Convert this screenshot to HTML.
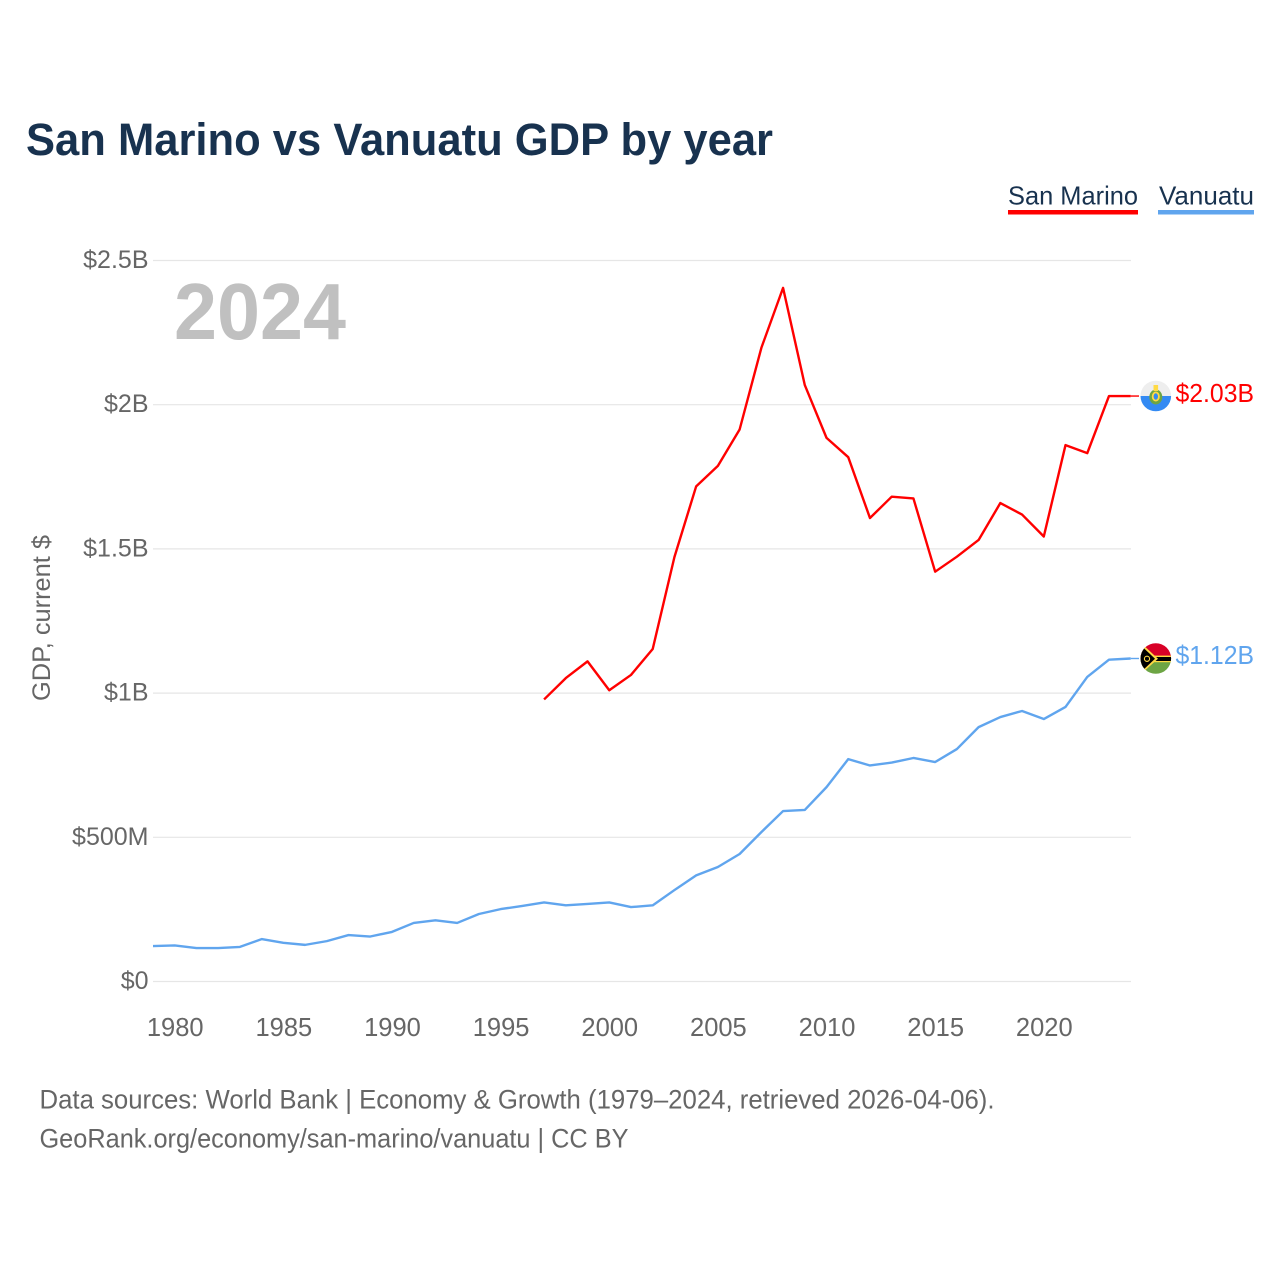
<!DOCTYPE html>
<html lang="en">
<head>
<meta charset="utf-8">
<title>San Marino vs Vanuatu GDP by year</title>
<style>
html,body{margin:0;padding:0;background:#fff;width:1280px;height:1280px;overflow:hidden}
svg{display:block;font-family:"Liberation Sans",sans-serif}
</style>
</head>
<body>
<svg id="chart" width="1280" height="1280" viewBox="0 0 1280 1280" xmlns="http://www.w3.org/2000/svg">
  <defs>
    <clipPath id="flag-clip-sm"><circle cx="1155.8" cy="396" r="15.3"/></clipPath>
    <clipPath id="flag-clip-vu"><circle cx="1155.8" cy="658.5" r="15.3"/></clipPath>
  </defs>
  <rect width="1280" height="1280" fill="#fff"/>
  <text x="26" y="155" font-size="45" font-weight="700" fill="#18324f" textLength="747" lengthAdjust="spacingAndGlyphs">San Marino vs Vanuatu GDP by year</text>

  <g>
    <g>
      <text x="1008" y="204.5" font-size="26" fill="#18324f" textLength="130" lengthAdjust="spacingAndGlyphs">San Marino</text>
      <rect x="1008" y="210" width="130" height="4.5" fill="#ff0000"/>
    </g>
    <g>
      <text x="1159" y="204.5" font-size="26" fill="#18324f" textLength="95" lengthAdjust="spacingAndGlyphs">Vanuatu</text>
      <rect x="1158" y="210" width="96" height="4.5" fill="#60a5ee"/>
    </g>
  </g>

  <g id="grid"></g>
  <g id="y-ticks"></g>
  <g id="x-ticks"></g>
  <text transform="translate(50,701) rotate(-90)" font-size="25" fill="#666" textLength="166" lengthAdjust="spacingAndGlyphs">GDP, current $</text>
  <text id="year-label" x="174" y="339" font-size="80" font-weight="700" fill="#c0c0c0" textLength="172" lengthAdjust="spacingAndGlyphs"></text>

  <g id="series"></g>

  <g clip-path="url(#flag-clip-sm)">
    <rect x="1140" y="380" width="32" height="16" fill="#eeeeee"/>
    <rect x="1140" y="396" width="32" height="17" fill="#338af3"/>
    <ellipse cx="1155.8" cy="397" rx="6.5" ry="7.5" fill="#6da544"/>
    <ellipse cx="1155.8" cy="396.5" rx="4" ry="5" fill="#ffda44"/>
    <ellipse cx="1155.8" cy="396.5" rx="2.2" ry="3.2" fill="#338af3"/>
    <rect x="1153.5" y="385" width="4.6" height="6" fill="#ffda44"/>
  </g>
  <g clip-path="url(#flag-clip-vu)">
    <rect x="1140" y="642" width="32" height="16.5" fill="#d80027"/>
    <rect x="1140" y="658.5" width="32" height="17" fill="#6da544"/>
    <rect x="1150" y="657" width="22" height="4" fill="#000"/>
    <rect x="1150" y="655.6" width="22" height="1.4" fill="#ffda44"/>
    <rect x="1150" y="661" width="22" height="1.2" fill="#ffda44"/>
    <polygon points="1140,642 1140,675 1158,658.8" fill="#ffda44"/>
    <polygon points="1140,644.5 1140,673 1155,658.8" fill="#000"/>
    <circle cx="1147" cy="658.8" r="2.6" fill="none" stroke="#ffda44" stroke-width="1.1"/>
  </g>

  <g id="end-labels"></g>

  <text x="39.5" y="1108.5" font-size="26.5" fill="#666" textLength="955" lengthAdjust="spacingAndGlyphs">Data sources: World Bank | Economy &amp; Growth (1979–2024, retrieved 2026-04-06).</text>
  <text x="39.5" y="1147.5" font-size="26.5" fill="#666" textLength="589" lengthAdjust="spacingAndGlyphs">GeoRank.org/economy/san-marino/vanuatu | CC BY</text>
</svg>

<script>
const vanuatuYears = [1979,1980,1981,1982,1983,1984,1985,1986,1987,1988,1989,1990,1991,1992,1993,1994,1995,1996,1997,1998,1999,2000,2001,2002,2003,2004,2005,2006,2007,2008,2009,2010,2011,2012,2013,2014,2015,2016,2017,2018,2019,2020,2021,2022,2023,2024];
const vanuatuValues = [0.123,0.125,0.116,0.116,0.120,0.147,0.134,0.127,0.140,0.161,0.156,0.172,0.203,0.212,0.203,0.234,0.251,0.262,0.274,0.264,0.269,0.274,0.258,0.264,0.317,0.368,0.397,0.442,0.518,0.591,0.595,0.674,0.771,0.749,0.759,0.775,0.761,0.806,0.882,0.917,0.938,0.910,0.952,1.056,1.116,1.120];
const sanMarinoYears = [1997,1998,1999,2000,2001,2002,2003,2004,2005,2006,2007,2008,2009,2010,2011,2012,2013,2014,2015,2016,2017,2018,2019,2020,2021,2022,2023,2024];
const sanMarinoValues = [0.978,1.052,1.110,1.010,1.063,1.153,1.472,1.717,1.788,1.914,2.197,2.405,2.068,1.885,1.818,1.607,1.681,1.675,1.421,1.473,1.531,1.659,1.619,1.543,1.860,1.832,2.030,2.030];
const yTickValues = [0,0.5,1,1.5,2,2.5];
const yTickLabels = ["$0","$500M","$1B","$1.5B","$2B","$2.5B"];
const xTickValues = [1980,1985,1990,1995,2000,2005,2010,2015,2020];
const currentYear = 2024;

const NS = 'http://www.w3.org/2000/svg';
function xScale(year){ return 153 + (year - 1979) * (1130.7 - 153) / 45; }
function yScale(v){ return 981.5 - v * (981.5 - 260.5) / 2.5; }
function make(tag, attrs, parent, text){
  const el = document.createElementNS(NS, tag);
  for (const k in attrs) el.setAttribute(k, attrs[k]);
  if (text !== undefined) el.textContent = text;
  parent.appendChild(el);
  return el;
}

const grid = document.getElementById('grid');
const yTicks = document.getElementById('y-ticks');
yTickValues.forEach((v, i) => {
  const line = make('line', {x1:153, x2:1131, y1:yScale(v), y2:yScale(v), stroke:'#e6e6e6', 'stroke-width':1.2}, grid);
  
  
  const label = make('text', {x:148.5, y:yScale(v)+7.5, 'text-anchor':'end', 'font-size':25, fill:'#666'}, yTicks, yTickLabels[i]);
  
  
});

const xTicks = document.getElementById('x-ticks');
xTickValues.forEach(year => {
  const label = make('text', {x:xScale(year)+0.5, y:1036, 'text-anchor':'middle', 'font-size':25.5, fill:'#666'}, xTicks, String(year));
  
  
});

document.getElementById('year-label').textContent = String(currentYear);

function linePath(years, values){
  return years.map((yr, i) => (i ? 'L' : 'M') + xScale(yr).toFixed(2) + ' ' + yScale(values[i]).toFixed(2)).join(' ');
}
const series = document.getElementById('series');
const sanMarinoLine = make('path', {d:linePath(sanMarinoYears, sanMarinoValues), fill:'none', stroke:'#ff0000', 'stroke-width':2.4, 'stroke-linejoin':'round'}, series);


const vanuatuLine = make('path', {d:linePath(vanuatuYears, vanuatuValues), fill:'none', stroke:'#60a5ee', 'stroke-width':2.4, 'stroke-linejoin':'round'}, series);



const endLabels = document.getElementById('end-labels');
const smLast = sanMarinoValues[sanMarinoValues.length - 1];
const vuLast = vanuatuValues[vanuatuValues.length - 1];
const smConnector = make('line', {x1:xScale(2024), x2:1139, y1:yScale(smLast), y2:yScale(smLast), stroke:'#ff0000', 'stroke-width':1.4}, endLabels);


const vuConnector = make('line', {x1:xScale(2024), x2:1139, y1:yScale(vuLast), y2:yScale(vuLast), stroke:'#60a5ee', 'stroke-width':1.4}, endLabels);


const smValue = make('text', {x:1175.5, y:402, 'font-size':25.5, fill:'#ff0000', textLength:78.5, lengthAdjust:'spacingAndGlyphs'}, endLabels, '$' + smLast.toFixed(2) + 'B');


const vuValue = make('text', {x:1175.5, y:664, 'font-size':25.5, fill:'#60a5ee', textLength:78.5, lengthAdjust:'spacingAndGlyphs'}, endLabels, '$' + vuLast.toFixed(2) + 'B');


</script>
</body>
</html>
